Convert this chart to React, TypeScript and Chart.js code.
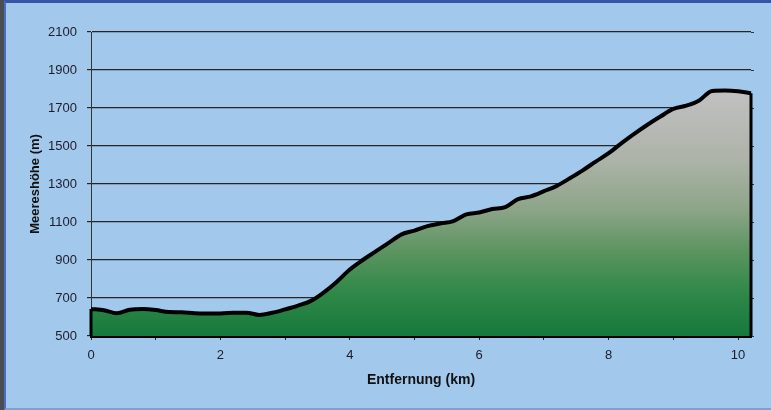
import React, { useEffect, useRef } from "react";
import { Chart, registerables } from "chart.js";

Chart.register(...registerables);

// Distance along the route (km)
const distanceKm = [
  0, 0.2, 0.4, 0.6, 0.8, 1.0, 1.2, 1.4, 1.6, 1.8, 2.0, 2.2, 2.4, 2.6, 2.8, 3.0,
  3.2, 3.4, 3.6, 3.8, 4.0, 4.2, 4.4, 4.6, 4.8, 5.0, 5.2, 5.4, 5.6, 5.8, 6.0,
  6.2, 6.4, 6.6, 6.8, 7.0, 7.2, 7.4, 7.6, 7.8, 8.0, 8.2, 8.4, 8.6, 8.8, 9.0,
  9.2, 9.4, 9.6, 9.8, 10.0, 10.2,
];

// Elevation (m)
const elevationM = [
  642, 636, 620, 638, 642, 637, 626, 625, 620, 619, 619, 622, 623, 611, 622, 640,
  660, 685, 730, 786, 850, 900, 945, 990, 1035, 1055, 1078, 1092, 1105, 1140, 1150,
  1168, 1178, 1220, 1235, 1262, 1290, 1330, 1372, 1418, 1462, 1515, 1565, 1612, 1655, 1695,
  1712, 1740, 1790, 1792, 1788, 1778,
];

const Y_MIN = 500;
const Y_MAX = 2100;
const Y_STEP = 200;
const X_MIN = 0;
const X_MAX = 10.2;
const X_STEP = 1;
const xLabelEvery = 2;

const xTitle = "Entfernung (km)";
const yTitle = "Meereshöhe (m)";

const FONT = "'Liberation Sans', Arial, sans-serif";

const edgePlugin = {
  id: "areaEdges",
  afterDatasetsDraw(chart: any) {
    const meta = chart.getDatasetMeta(0);
    const pts = meta.data;
    if (!pts || !pts.length) return;
    const { ctx, chartArea } = chart;
    const first = pts[0];
    const last = pts[pts.length - 1];
    ctx.save();
    ctx.strokeStyle = "#000";
    ctx.lineWidth = 3;
    ctx.beginPath();
    ctx.moveTo(first.x, first.y);
    ctx.lineTo(first.x, chartArea.bottom);
    ctx.moveTo(last.x, last.y);
    ctx.lineTo(last.x, chartArea.bottom);
    ctx.stroke();
    ctx.restore();
  },
};

export default function App() {
  const canvasRef = useRef<HTMLCanvasElement | null>(null);

  useEffect(() => {
    const canvas = canvasRef.current;
    if (!canvas) return;
    const points = distanceKm.map((x, i) => ({ x, y: elevationM[i] }));

    const chart = new Chart(canvas, {
      type: "line",
      data: {
        datasets: [
          {
            data: points,
            borderColor: "#000",
            borderWidth: 4,
            pointRadius: 0,
            cubicInterpolationMode: "monotone",
            fill: "start",
            clip: 6,
            backgroundColor: (context: any) => {
              const { chart } = context;
              const { ctx, chartArea } = chart;
              if (!chartArea) return "#2a8040";
              const g = ctx.createLinearGradient(0, chartArea.top, 0, chartArea.bottom);
              g.addColorStop(0, "#C6C6C6");
              g.addColorStop(0.22, "#BFBFBF");
              g.addColorStop(0.42, "#ADB3A8");
              g.addColorStop(0.58, "#8EA589");
              g.addColorStop(0.72, "#5C9460");
              g.addColorStop(0.86, "#2F8848");
              g.addColorStop(1, "#16793C");
              return g;
            },
          },
        ],
      },
      options: {
        animation: false,
        responsive: true,
        maintainAspectRatio: false,
        layout: { padding: { top: 29, right: 16, left: 0, bottom: 0 } },
        plugins: {
          legend: { display: false },
          tooltip: { enabled: false },
        },
        scales: {
          x: {
            type: "linear",
            min: X_MIN,
            max: X_MAX,
            z: 1,
            afterFit: (scale: any) => {
              scale.height = 72;
            },
            ticks: {
              stepSize: X_STEP,
              includeBounds: false,
              autoSkip: false,
              maxRotation: 0,
              padding: 8,
              color: "#1c1c2c",
              font: { family: FONT, size: 13 },
              callback: (v: any) => (Number(v) % xLabelEvery === 0 ? String(v) : ""),
            },
            grid: {
              drawOnChartArea: false,
              drawTicks: true,
              tickLength: 4,
              color: "#222",
            },
            border: { display: true, color: "#000", width: 3 },
            title: {
              display: true,
              text: xTitle,
              color: "#111",
              font: { family: FONT, size: 14, weight: "bold" },
              padding: { top: 0, bottom: 19 },
            },
          },
          y: {
            type: "linear",
            position: "left",
            min: Y_MIN,
            max: Y_MAX,
            afterFit: (scale: any) => {
              scale.width = 85;
            },
            ticks: {
              stepSize: Y_STEP,
              padding: 10,
              color: "#1c1c2c",
              font: { family: FONT, size: 13 },
              callback: (v: any) => String(v),
            },
            grid: {
              color: "#262626",
              lineWidth: 1.2,
              drawTicks: true,
              tickLength: 4,
            },
            border: { display: true, color: "#333", width: 1 },
            title: {
              display: true,
              text: yTitle,
              color: "#111",
              font: { family: FONT, size: 13, weight: "bold" },
              padding: { top: 22, bottom: 0 },
            },
          },
          y2: {
            type: "linear",
            position: "right",
            min: Y_MIN,
            max: Y_MAX,
            afterFit: (scale: any) => {
              scale.width = 4;
            },
            ticks: { stepSize: Y_STEP, display: false },
            grid: {
              drawOnChartArea: false,
              drawTicks: true,
              tickLength: 3,
              color: "#333",
            },
            border: { display: false },
          },
        },
      },
      plugins: [edgePlugin],
    });

    return () => chart.destroy();
  }, []);

  return (
    <div
      style={{
        position: "fixed",
        left: 0,
        top: 0,
        width: 771,
        height: 410,
        background: "#4a4d52",
      }}
    >
      <div
        style={{
          position: "absolute",
          left: 4,
          top: 0,
          right: 0,
          bottom: 0,
          boxSizing: "border-box",
          borderTop: "3px solid #3556A6",
          borderLeft: "2px solid #4A6DC2",
          borderBottom: "2px solid #7F9FD6",
          background: "#A2C8EC",
        }}
      >
        <div style={{ position: "relative", width: 765, height: 405 }}>
          <canvas ref={canvasRef} />
        </div>
      </div>
    </div>
  );
}
